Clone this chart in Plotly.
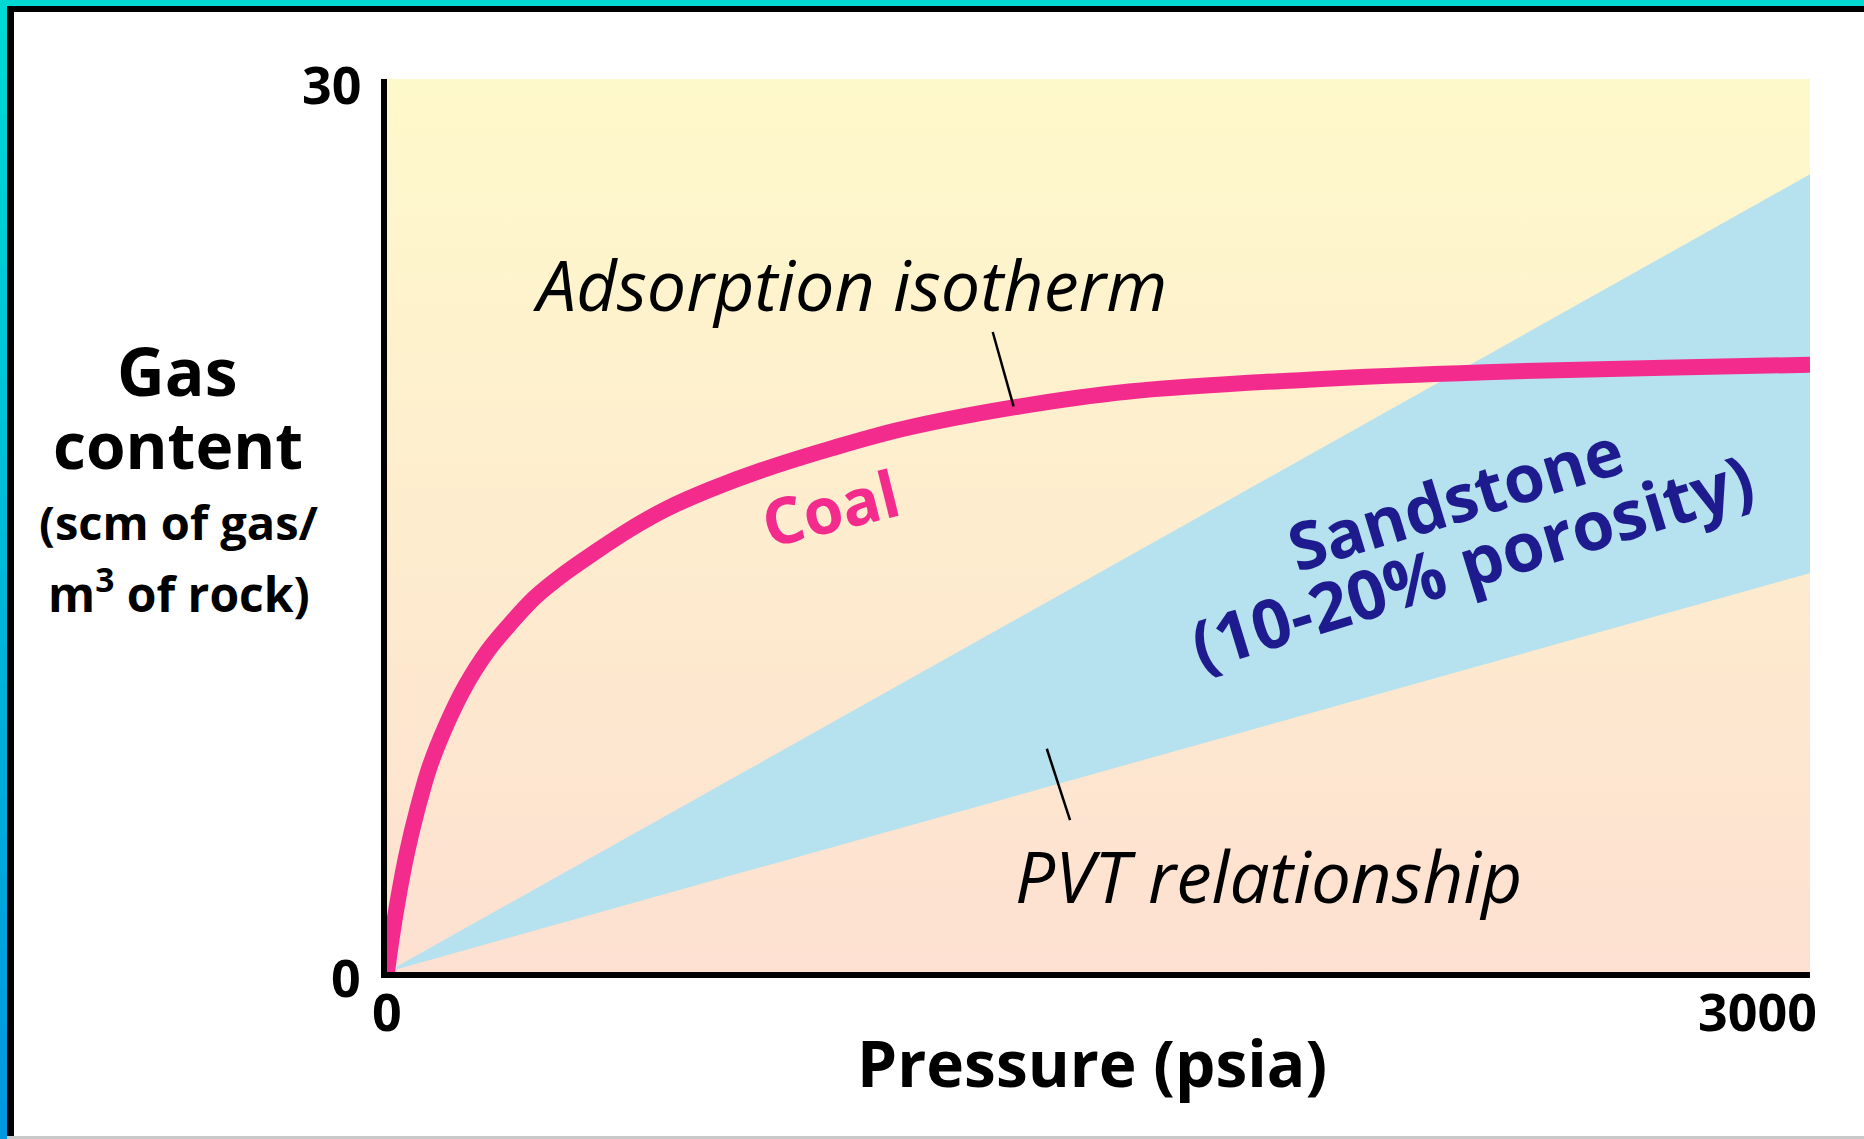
import plotly.graph_objects as go

# axis extents and the only tick labels shown
X_RANGE = [0, 3000]
Y_RANGE = [0, 30]
X_TICKS = [0, 3000]
Y_TICKS = [0, 30]

# coal adsorption isotherm (psia -> scm gas / m3 rock)
COAL_PRESSURE = [0, 10, 25, 42, 63, 90, 125, 165, 213, 260, 313, 375, 438, 510, 588,
                 680, 789, 939, 1089, 1315, 1565, 1941, 2316, 2692, 3000]
COAL_GAS = [0, 1.15, 2.6, 4.0, 5.4, 6.9, 8.3, 9.6, 10.8, 11.7, 12.6, 13.4, 14.1, 14.85, 15.55,
            16.2, 16.85, 17.6, 18.25, 18.95, 19.5, 19.9, 20.15, 20.3, 20.4]

# sandstone PVT band (10 % and 20 % porosity bounds)
SAND_PRESSURE = [0, 3000]
SAND_LOW = [0, 13.4]
SAND_HIGH = [0, 26.8]

W, H = 1864, 1139
PLOT_L, PLOT_R, PLOT_T, PLOT_B = 387, 1810, 79, 972

FONT = "Open Sans, Noto Sans, sans-serif"
PINK = "#F32B8D"
NAVY = "#1E1B8E"
SKY = "#B6E1EE"
BG_TOP = "#FEF9CB"
BG_BOTTOM = "#FDE0D1"


def px(x):
    return (x - PLOT_L) / (PLOT_R - PLOT_L)


def py(y):
    return (PLOT_B - y) / (PLOT_B - PLOT_T)


def label(text, x, y, size, color="black", weight="bold", style="normal", angle=0):
    return dict(
        text=text, x=px(x), y=py(y), xref="paper", yref="paper",
        showarrow=False, textangle=angle, xanchor="center", yanchor="middle",
        font=dict(family=FONT, size=size, color=color, weight=weight, style=style),
    )


fig = go.Figure()

# background wash, yellow on top fading to peach
fig.add_trace(go.Scatter(
    x=X_RANGE, y=[Y_RANGE[1]] * 2, mode="lines", line=dict(width=0),
    fill="tozeroy",
    fillgradient=dict(type="vertical", start=Y_RANGE[0], stop=Y_RANGE[1],
                      colorscale=[[0, BG_BOTTOM], [1, BG_TOP]]),
    hoverinfo="skip", showlegend=False,
))

fig.add_trace(go.Scatter(
    x=SAND_PRESSURE, y=SAND_LOW, mode="lines", line=dict(width=0),
    hoverinfo="skip", showlegend=False,
))
fig.add_trace(go.Scatter(
    x=SAND_PRESSURE, y=SAND_HIGH, mode="lines", line=dict(width=0),
    fill="tonexty", fillcolor=SKY, hoverinfo="skip", showlegend=False,
))

fig.add_trace(go.Scatter(
    x=COAL_PRESSURE, y=COAL_GAS, mode="lines",
    line=dict(color=PINK, width=16, shape="spline", smoothing=1.0),
    hovertemplate="%{x} psia<br>%{y} scm/m³<extra>Coal</extra>",
    showlegend=False,
))

annotations = []
for v in X_TICKS:
    first = v == X_TICKS[0]
    annotations.append(dict(
        text=str(v), x=v, y=0, xref="x", yref="y", showarrow=False,
        xanchor="center" if first else "right", xshift=0 if first else 9,
        yanchor="middle", yshift=-38,
        font=dict(family=FONT, size=52, color="black", weight="bold"),
    ))
for v in Y_TICKS:
    annotations.append(dict(
        text=str(v), x=0, y=v, xref="x", yref="y", showarrow=False,
        xanchor="right", xshift=-24, yanchor="middle", yshift=-4,
        font=dict(family=FONT, size=52, color="black", weight="bold"),
    ))

annotations += [
    label("Gas", 177, 370, 66),
    label("content", 178, 444, 64),
    label("(scm of gas/", 179, 522, 47),
    label("m<sup>3</sup> of rock)", 179, 591, 48),
    label("Pressure (psia)", 1092, 1062, 64),
    label("Adsorption isotherm", 850, 284, 70, weight="normal", style="italic"),
    label("PVT relationship", 1268, 875, 71, weight="normal", style="italic"),
    label("Coal", 830, 507, 64, color=PINK, angle=-14),
    label("Sandstone", 1455, 497, 66, color=NAVY, angle=-17),
    label("(10-20% porosity)", 1471, 560, 68, color=NAVY, angle=-17),
]

shapes = [
    # leader lines to the curve and to the PVT band edge
    dict(type="line", xref="x", yref="y", x0=1277, y0=21.5, x1=1321, y1=19.0,
         line=dict(color="black", width=2.5)),
    dict(type="line", xref="x", yref="y", x0=1391, y0=7.5, x1=1440, y1=5.1,
         line=dict(color="black", width=2.5)),
]

# picture frame: cyan/blue outer rim, black inner rule
rim_top, rim_bottom = (0, 217, 211), (0, 152, 222)
n = 30
for i in range(n):
    t = i / (n - 1)
    c = tuple(round(a + (b - a) * t) for a, b in zip(rim_top, rim_bottom))
    shapes.append(dict(
        type="rect", xref="paper", yref="paper",
        x0=px(0), x1=px(7), y0=py(H * i / n), y1=py(H * (i + 1) / n + 1),
        fillcolor="rgb(%d,%d,%d)" % c, line=dict(width=0),
    ))
shapes += [
    dict(type="rect", xref="paper", yref="paper", x0=px(0), x1=px(W), y0=py(0), y1=py(6),
         fillcolor="rgb(0,217,211)", line=dict(width=0)),
    dict(type="rect", xref="paper", yref="paper", x0=px(7), x1=px(W), y0=py(6), y1=py(12),
         fillcolor="black", line=dict(width=0)),
    dict(type="rect", xref="paper", yref="paper", x0=px(7), x1=px(14), y0=py(6), y1=py(H),
         fillcolor="black", line=dict(width=0)),
    dict(type="rect", xref="paper", yref="paper", x0=px(7), x1=px(W), y0=py(H - 3), y1=py(H),
         fillcolor="#C9C9C9", line=dict(width=0)),
]

axis_style = dict(
    showline=True, linecolor="black", linewidth=6,
    showgrid=False, zeroline=False, showticklabels=False, ticks="",
    fixedrange=True,
)

fig.update_layout(
    width=W, height=H,
    margin=dict(l=PLOT_L, r=W - PLOT_R, t=PLOT_T, b=H - PLOT_B),
    paper_bgcolor="white",
    plot_bgcolor="white",
    font=dict(family=FONT, color="black"),
    xaxis=dict(range=X_RANGE, **axis_style),
    yaxis=dict(range=Y_RANGE, **axis_style),
    annotations=annotations,
    shapes=shapes,
    showlegend=False,
)

# page body has a default 8px margin; drop it so the figure fills the window
fig.write_html(
    "out.html",
    config={"displayModeBar": False},
    post_script="document.body.style.margin='0';document.body.style.overflow='hidden';",
)
